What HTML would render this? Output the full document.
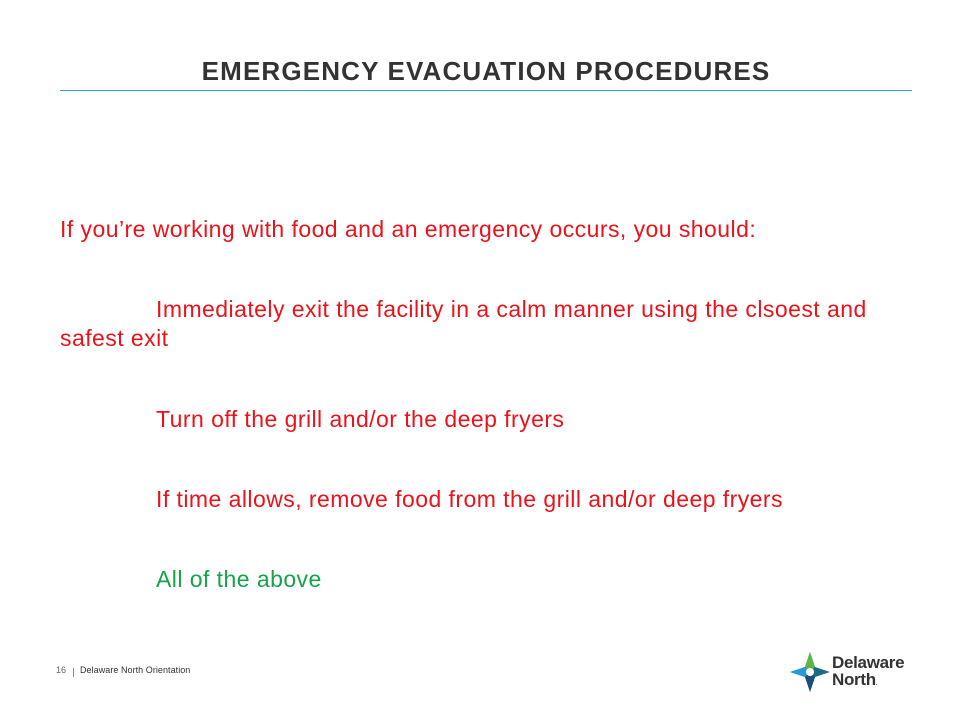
<!DOCTYPE html>
<html><head><meta charset="utf-8"><style>
body{margin:0;width:960px;height:720px;background:#fff;position:relative;overflow:hidden;font-family:"Liberation Sans",Arial,sans-serif}
.a{position:absolute;white-space:nowrap}
.r{color:#e8131b;font-size:23px;letter-spacing:0.45px}
</style></head><body>
<div class="a" style="left:0;width:972px;text-align:center;top:56px;font-size:26px;font-weight:bold;color:#333;letter-spacing:1.15px">EMERGENCY EVACUATION PROCEDURES</div>
<div class="a" style="left:60px;top:90px;width:852px;height:1px;background:#3aa0c0"></div>
<div class="a r" style="left:60px;top:216px">If you’re working with food and an emergency occurs, you should:</div>
<div class="a r" style="left:156px;top:296px">Immediately exit the facility in a calm manner using the clsoest and</div>
<div class="a r" style="left:60px;top:325px">safest exit</div>
<div class="a r" style="left:156px;top:406px">Turn off the grill and/or the deep fryers</div>
<div class="a r" style="left:156px;top:486px">If time allows, remove food from the grill and/or deep fryers</div>
<div class="a r" style="left:156px;top:566px;color:#16a34a">All of the above</div>
<div class="a" style="left:56px;top:665px;font-size:9px;color:#666">16</div>
<div class="a" style="left:73px;top:668px;width:1px;height:9px;background:#888"></div>
<div class="a" style="left:80px;top:665px;font-size:9px;color:#333;letter-spacing:0.05px">Delaware North Orientation</div>
<svg class="a" style="left:790px;top:652px" width="40" height="40" viewBox="0 0 40 40">
<path d="M20 0 L25 15 L40 20 L25 25 L20 40 L15 25 L0 20 L15 15 Z" fill="#1a6d8a"/>
<path d="M20 0 L25 15 L20 20 L15 15 Z" fill="#5bb547"/>
<path d="M0 20 L15 15 L20 20 L15 25 Z" fill="#2a9bd0"/>
<path d="M20 40 L15 25 L20 20 L25 25 Z" fill="#1b4f7a"/>
<circle cx="20" cy="20" r="4" fill="#fff"/>
</svg>
<div class="a" style="left:832px;top:654px;font-size:17px;color:#333;line-height:18px;font-weight:bold;letter-spacing:-0.3px">Delaware</div>
<div class="a" style="left:832px;top:671px;font-size:17px;color:#333;line-height:18px;font-weight:bold;letter-spacing:-0.3px">North<span style="font-size:5px">.</span></div>
</body></html>
